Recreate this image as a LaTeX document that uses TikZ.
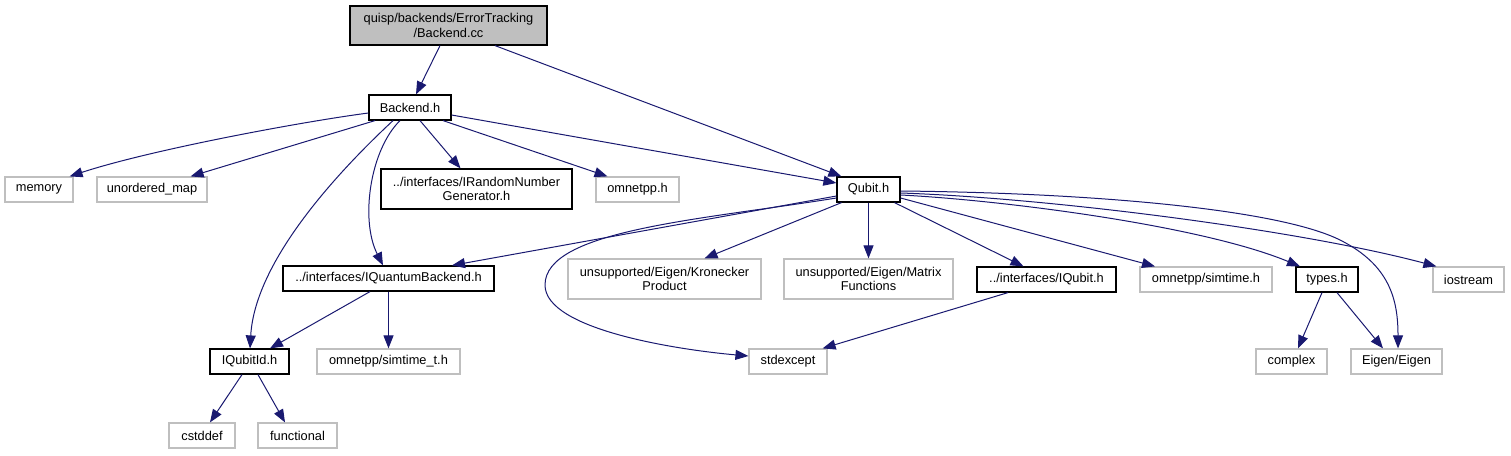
\documentclass[tikz,border=0pt]{standalone}
\usepackage{fontspec}
\setmainfont{Liberation Sans}
\usetikzlibrary{arrows.meta,calc}
\definecolor{edgec}{HTML}{191970}
\definecolor{extc}{HTML}{BFBFBF}
\definecolor{ccfill}{HTML}{BFBFBF}
\begin{document}
\begin{tikzpicture}[x=1pt,y=-1pt,
  box/.style={draw=black,line width=1.2pt,inner sep=0pt,align=center,
    font=\fontsize{12.8}{14.5}\selectfont,minimum height=25pt},
  ext/.style={box,draw=extc},
  dep/.style={draw=edgec,line width=1pt,-{Triangle[length=13pt,width=10pt]}}
]
\useasboundingbox (0,0) rectangle (1511,455);
% nodes
\node[box,fill=ccfill,minimum width=197pt,minimum height=39pt] (cc) at (448.5,25.5) {quisp/backends/ErrorTracking\\/Backend.cc};
\node[box,minimum width=82pt] (bh) at (410,107.5) {Backend.h};
\node[ext,minimum width=68pt] (memory) at (39,189.5) {memory};
\node[ext,minimum width=110pt] (umap) at (152,189.5) {unordered\_map};
\node[box,minimum width=191pt,minimum height=40pt] (irng) at (476.5,189) {../interfaces/IRandomNumber\\Generator.h};
\node[ext,minimum width=83pt] (omnetpp) at (637.5,189.5) {omnetpp.h};
\node[box,minimum width=63pt] (qubit) at (868.5,189.5) {Qubit.h};
\node[box,minimum width=211pt] (iqb) at (388.5,278.5) {../interfaces/IQuantumBackend.h};
\node[box,minimum width=79pt] (iqid) at (249.5,361.5) {IQubitId.h};
\node[ext,minimum width=143pt] (stt) at (388.5,361.5) {omnetpp/simtime\_t.h};
\node[ext,minimum width=66pt] (cstddef) at (202,435.5) {cstddef};
\node[ext,minimum width=79pt] (functional) at (297.5,435.5) {functional};
\node[ext,minimum width=193pt,minimum height=40pt] (kron) at (664.5,279) {unsupported/Eigen/Kronecker\\Product};
\node[ext,minimum width=169pt,minimum height=40pt] (matf) at (868.5,279) {unsupported/Eigen/Matrix\\Functions};
\node[box,minimum width=139pt] (iqubit) at (1046.5,279.5) {../interfaces/IQubit.h};
\node[ext,minimum width=132pt] (simtime) at (1206,279.5) {omnetpp/simtime.h};
\node[box,minimum width=62pt] (types) at (1327,279.5) {types.h};
\node[ext,minimum width=71pt] (iostream) at (1468.5,279.5) {iostream};
\node[ext,minimum width=78pt] (stdexcept) at (788,361.5) {stdexcept};
\node[ext,minimum width=71pt] (complex) at (1291.5,361.5) {complex};
\node[ext,minimum width=91pt] (eigen) at (1396.5,361.5) {Eigen/Eigen};
\coordinate (k1) at (545,285);
\coordinate (k2) at (1340,240);
% edges
\draw[dep] ([xshift=-8.5pt]cc.south) -- ([xshift=6pt]bh.north);
\draw[dep] ([xshift=46.5pt]cc.south) -- ([xshift=5pt]qubit.north west);
\draw[dep] ([yshift=-5.5pt]bh.west) .. controls (300,122) and (150,150) .. ([xshift=-4pt]memory.north east);
\draw[dep] ([xshift=-35pt]bh.south) -- ([xshift=-17pt]umap.north east);
\draw[dep] ([xshift=-17pt]bh.south) .. controls (340,170) and (255,260) .. ([xshift=0.5pt]iqid.north);
\draw[dep] ([xshift=-10pt]bh.south) .. controls (370,150) and (360,220) .. ([xshift=-5.5pt]iqb.north);
\draw[dep] ([xshift=10pt]bh.south) -- ([xshift=-16pt]irng.north);
\draw[dep] ([xshift=33pt]bh.south) -- ([xshift=-30pt]omnetpp.north);
\draw[dep] ([yshift=-7.5pt]bh.east) -- ([yshift=6.5pt]qubit.west);
\draw[dep] ([yshift=-6.5pt]qubit.west) -- ([xshift=63.5pt]iqb.north);
\draw[dep] ([yshift=-8.5pt]qubit.west) .. controls (700,220) and (545,230) .. (k1) .. controls (545,330) and (680,350) .. ([yshift=5.5pt]stdexcept.west);
\draw[dep] ([xshift=-27pt]qubit.south) -- ([xshift=40pt]kron.north);
\draw[dep] (qubit.south) -- (matf.north);
\draw[dep] ([xshift=26pt]qubit.south) -- ([xshift=-23pt]iqubit.north);
\draw[dep] ([yshift=-8.5pt]qubit.east) -- ([xshift=-51pt]simtime.north);
\draw[dep] ([yshift=-5.5pt]qubit.east) .. controls (1000,200) and (1200,225) .. ([xshift=-27pt]types.north);
\draw[dep] ([yshift=-3.5pt]qubit.east) .. controls (1050,198) and (1300,230) .. ([xshift=4pt]iostream.north west);
\draw[dep] ([yshift=-1.5pt]qubit.east) .. controls (1100,193) and (1280,210) .. (k2) .. controls (1390,265) and (1398,300) .. ([xshift=1.5pt]eigen.north);
\draw[dep] ([xshift=-18.5pt]iqb.south) -- ([xshift=20.5pt]iqid.north);
\draw[dep] (iqb.south) -- (stt.north);
\draw[dep] ([xshift=-7.5pt]iqid.south) -- ([xshift=8pt]cstddef.north);
\draw[dep] ([xshift=8.5pt]iqid.south) -- ([xshift=-12.5pt]functional.north);
\draw[dep] ([xshift=-38.5pt]iqubit.south) -- ([xshift=-5pt]stdexcept.north east);
\draw[dep] ([xshift=-5pt]types.south) -- ([xshift=6.5pt]complex.north);
\draw[dep] ([xshift=10pt]types.south) -- ([xshift=-13.5pt]eigen.north);
\end{tikzpicture}
\end{document}
